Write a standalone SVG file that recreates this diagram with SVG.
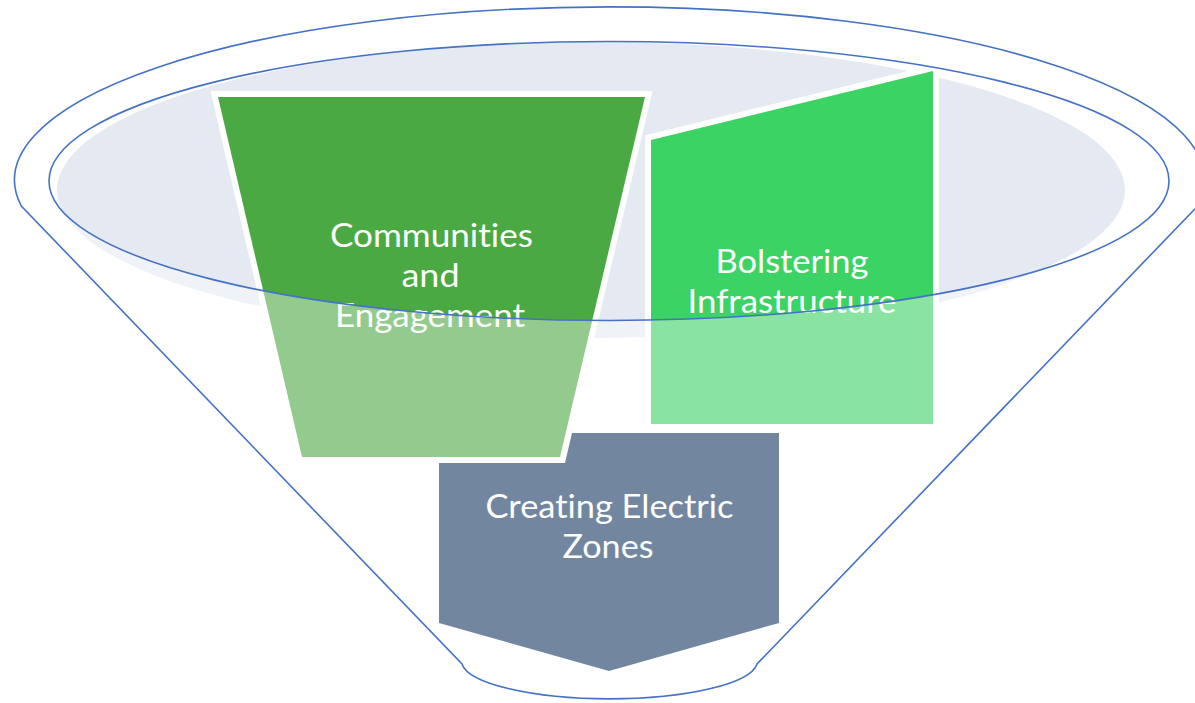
<svg xmlns="http://www.w3.org/2000/svg" width="1195" height="703" viewBox="0 0 1195 703">
<style>
.lbl{font-family:Lato,"Open Sans","Liberation Sans",sans-serif;font-size:33px;fill:#FFFFFF;text-anchor:middle;font-variant-ligatures:none;font-feature-settings:"liga" 0,"clig" 0}
.shape{stroke:#FFFFFF;stroke-width:12;stroke-linejoin:miter;paint-order:stroke}
.outline{fill:none;stroke:#4472C4;stroke-width:1.6}
</style>
<rect width="1195" height="703" fill="#FFFFFF"/>
<g id="funnel-opening">
<ellipse cx="591" cy="190" rx="534" ry="148" fill="#E4E9F2"/>
</g>
<g id="communities">
<polygon class="shape" points="218,97 645,97 560,457 302,457" fill="#4AA942"/>
<text class="lbl" x="431.5" y="247" textLength="203" lengthAdjust="spacingAndGlyphs">Communities</text>
<text class="lbl" x="430.5" y="287" textLength="58" lengthAdjust="spacingAndGlyphs">and</text>
<text class="lbl" x="430" y="327" textLength="190" lengthAdjust="spacingAndGlyphs">Engagement</text>
</g>
<g id="bolstering">
<polygon class="shape" points="651,140 933,71 933,424 651,424" fill="#3BD363"/>
<text class="lbl" x="792" y="273" textLength="153" lengthAdjust="spacingAndGlyphs">Bolstering</text>
<text class="lbl" x="792" y="313" textLength="209" lengthAdjust="spacingAndGlyphs">Infrastructure</text>
</g>
<g id="funnel">
<path fill="#FFFFFF" fill-opacity="0.4" fill-rule="evenodd" d="M21.3,206 A595,173 0 1 1 1197.7,206 L757,664 A148,38 0 0 1 462,664 Z M49,181 A560,139.5 0 1 0 1169,181 A560,139.5 0 1 0 49,181 Z"/>
<path class="outline" d="M21.3,206 A595,173 0 1 1 1197.7,206 L757,664 A148,38 0 0 1 462,664 Z"/>
<ellipse class="outline" cx="609" cy="181" rx="560" ry="139.5"/>
</g>
<g id="electric-zones">
<path d="M572,433 L779,433 L779,623 L609,671 L439,623 L439,463 L565,463 Z" fill="#72879F"/>
<text class="lbl" x="609.5" y="518" textLength="248" lengthAdjust="spacingAndGlyphs">Creating Electric</text>
<text class="lbl" x="608" y="558" textLength="91" lengthAdjust="spacingAndGlyphs">Zones</text>
</g>
</svg>
